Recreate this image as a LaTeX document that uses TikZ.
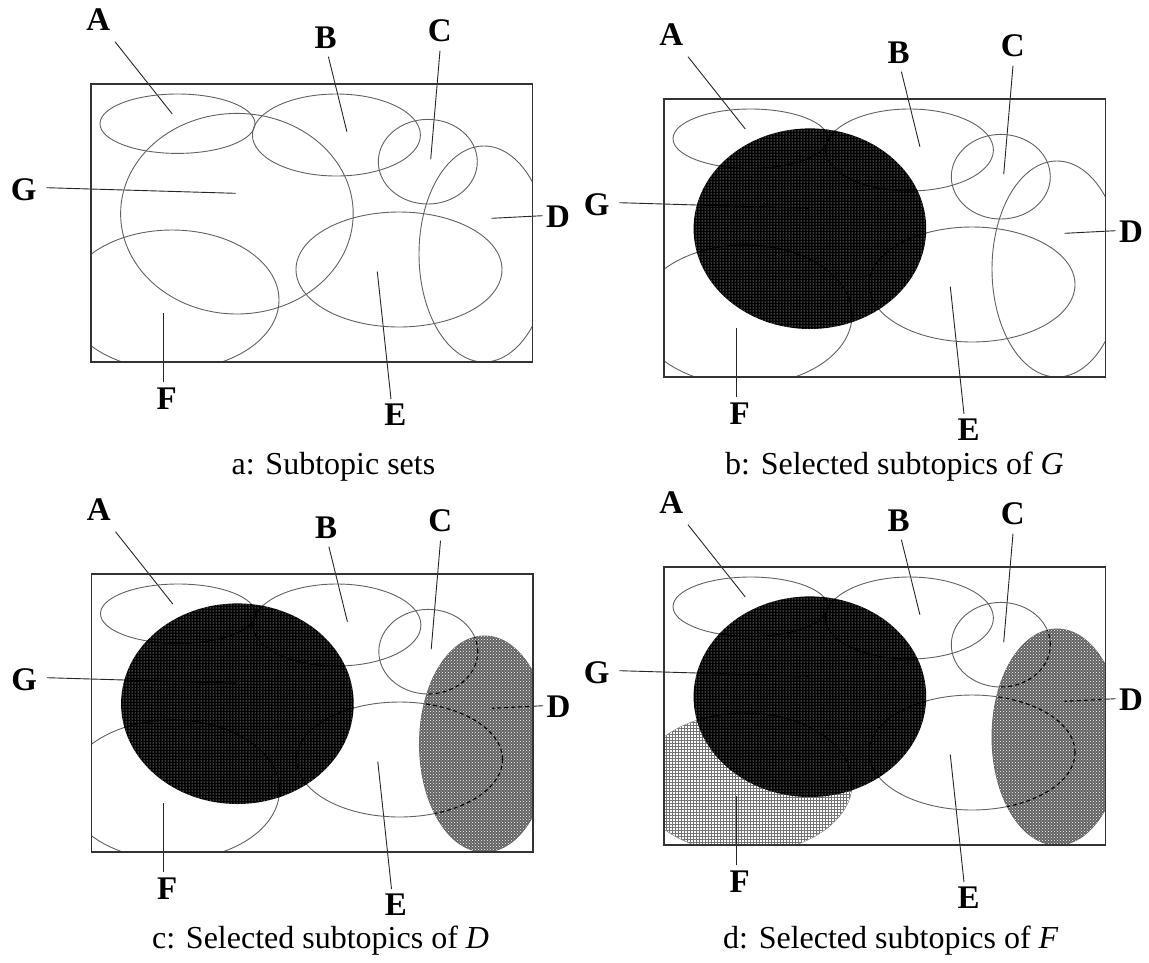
\documentclass[tikz,border=0pt]{standalone}
\usepackage{fontspec}
\setmainfont{Liberation Serif}
\usetikzlibrary{patterns}
\tikzset{
  outl/.style={draw=black!62, line width=0.9pt},
  leader/.style={draw=black!85, line width=0.9pt},
  panelframe/.style={draw=black!80, line width=1.3pt},
  lbl/.style={font=\fontsize{33}{33}\selectfont\bfseries, inner sep=0pt},
  captext/.style={font=\fontsize{32}{32}\selectfont, inner sep=0pt},
  thru/.style={draw=black, line width=1.1pt},
  dsh/.style={draw=black, line width=1.1pt, dash pattern=on 4pt off 3pt},
}
\def\shA{(86.5,39.7) ellipse [x radius=77.5pt, y radius=29.7pt]}
\def\shB{(245.4,51) ellipse [x radius=84pt, y radius=41pt]}
\def\shC{(336.8,77.7) ellipse [x radius=49.5pt, y radius=42.3pt]}
\def\shD{(393,170) ellipse [x radius=65pt, y radius=108pt]}
\def\shE{(308,185.5) ellipse [x radius=103pt, y radius=57.5pt]}
\def\shF{(81,216) ellipse [x radius=107pt, y radius=70pt]}
\def\shG{(145.9,129.7) ellipse [x radius=116.3pt, y radius=100.3pt]}
% #1 ox, #2 oy, #3 prefix, #4 mode (0=a,1=b,2=c,3=d)
\newcommand\vpanel[4]{%
\begin{scope}[shift={(#1,#2)}]
  % labels
  \node[lbl] (#3A) at (7.3,-64) {A};
  \node[lbl] (#3B) at (234.6,-46) {B};
  \node[lbl] (#3C) at (348.8,-53.7) {C};
  \node[lbl] (#3D) at (467,132.7) {D};
  \node[lbl] (#3E) at (304.5,331) {E};
  \node[lbl] (#3F) at (75.7,314.7) {F};
  \node[lbl] (#3G) at (-67.3,106) {G};
  % leader end points
  \coordinate (#3a1) at (24,-42.3);   \coordinate (#3a2) at (81.3,30);
  \coordinate (#3b1) at (237.4,-27.3); \coordinate (#3b2) at (255.9,47.7);
  \coordinate (#3c1) at (349,-33.3);  \coordinate (#3c2) at (339.7,75.3);
  \coordinate (#3d1) at (451.7,131.7); \coordinate (#3d2) at (400.7,134.3);
  \coordinate (#3e1) at (300,315);    \coordinate (#3e2) at (286.3,187.7);
  \coordinate (#3f1) at (72.3,298);   \coordinate (#3f2) at (72.3,229.3);
  \coordinate (#3g1) at (-44.6,103.7); \coordinate (#3g2) at (144.6,109.3);
  \draw[leader] (#3a1) -- (#3a2);
  \draw[leader] (#3b1) -- (#3b2);
  \draw[leader] (#3c1) -- (#3c2);
  \draw[leader] (#3d1) -- (#3d2);
  \draw[leader] (#3e1) -- (#3e2);
  \draw[leader] (#3g1) -- (#3g2);
  \begin{scope}
    \clip (0,0) rectangle (441.5,278);
    \draw[outl] \shA; \draw[outl] \shB; \draw[outl] \shC;
    \draw[outl] \shE; \draw[outl] \shF; \draw[outl] \shD;
    \ifnum#4=0 \draw[outl] \shG; \fi
    \ifnum#4>2
      \fill[white] \shF;
      \fill[pattern=grid, pattern color=black!55] \shF;
    \fi
    \ifnum#4>1
      \fill[black!62] \shD;
      \fill[pattern=crosshatch dots, pattern color=white] \shD;
      \begin{scope}
        \clip \shD;
        \draw[dsh] \shC; \draw[dsh] \shE;
        \draw[dsh] (#3d1) -- (#3d2);
      \end{scope}
    \fi
    \ifnum#4>0
      \fill[black] \shG;
      \fill[pattern=dots, pattern color=white] \shG;
      \begin{scope}
        \clip \shG;
        \draw[thru] \shA; \draw[thru] \shB; \draw[thru] \shE; \draw[thru] \shF;
        \draw[thru] (#3g1) -- (#3g2);
      \end{scope}
    \fi
  \end{scope}
  \draw[leader] (#3f1) -- (#3f2);
  \draw[panelframe] (0,0) rectangle (441.5,278);
\end{scope}}

\begin{document}
\begin{tikzpicture}[x=1pt,y=-1pt]
\useasboundingbox (0,0) rectangle (1149,962);
\fill[white] (0,0) rectangle (1149,962);
\vpanel{91}{84}{pa}{0}
\vpanel{664}{99}{pb}{1}
\vpanel{91.5}{574}{pc}{2}
\vpanel{664}{567}{pd}{3}
\node[captext, anchor=base west] (capa) at (231.5,474) {a: Subtopic sets};
\node[captext, anchor=base west] (capb) at (725,474) {b: Selected subtopics of \textit{G}};
\node[captext, anchor=base west] (capc) at (152,948) {c: Selected subtopics of \textit{D}};
\node[captext, anchor=base west] (capd) at (723,948) {d: Selected subtopics of \textit{F}};
\end{tikzpicture}
\end{document}
